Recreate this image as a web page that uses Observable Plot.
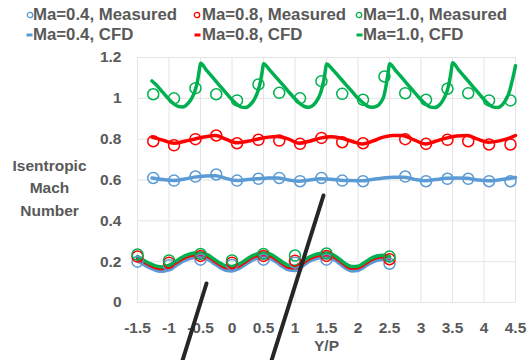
<!DOCTYPE html>
<html><head><meta charset="utf-8">
<script src="https://cdn.jsdelivr.net/npm/d3@7"></script>
<script src="https://cdn.jsdelivr.net/npm/@observablehq/plot@0.6"></script>
<style>
body{margin:0;background:#fff;font-family:"Liberation Sans",Arial,sans-serif;}
#legend{position:relative;height:45px;width:529px;}
.lt{position:absolute;font-size:16.8px;font-weight:bold;color:#595959;white-space:nowrap;line-height:18px;}
.mk{position:absolute;}
</style></head>
<body>
<div id="legend"></div>
<div id="chart"></div>
<script>
// ---------- data ----------
const seriesNames = ["Ma=0.4", "Ma=0.8", "Ma=1.0"];
const seriesColors = ["#5B9BD5", "#FF0000", "#00B050"];

const xTicks = [-1.5, -1, -0.5, 0, 0.5, 1, 1.5, 2, 2.5, 3, 3.5, 4, 4.5];
const xTickLabels = ["-1.5", "-1", "-0.5", "0", "0.5", "1", "1.5", "2", "2.5", "3", "3.5", "4", "4.5"];
const yTicks = [0, 0.2, 0.4, 0.6, 0.8, 1.0, 1.2];
const yTickLabels = ["0", "0.2", "0.4", "0.6", "0.8", "1", "1.2"];

// upper group: measured
const measX = [-1.25, -0.92, -0.58, -0.25, 0.08, 0.42, 0.75, 1.08, 1.42, 1.75, 2.08, 2.42, 2.75, 3.08, 3.42, 3.75, 4.08, 4.42];
const measBlue  = [0.610, 0.597, 0.617, 0.627, 0.597, 0.606, 0.610, 0.594, 0.610, 0.597, 0.594, null, 0.617, 0.594, 0.606, 0.606, 0.594, 0.594];
const measRed   = [0.790, 0.770, 0.800, 0.818, 0.780, 0.797, 0.793, 0.777, 0.806, 0.785, 0.780, null, 0.800, 0.777, 0.797, 0.790, 0.774, 0.774];
const measGreen = [1.020, 1.000, 1.050, 1.020, 0.990, 1.068, 1.027, 1.000, 1.084, 1.022, 0.993, 1.107, 1.025, 0.993, 1.047, 1.025, 0.990, 0.990];

// upper group: CFD
const cfdBlueX = [-1.27, -1.1, -0.92, -0.75, -0.6, -0.42, -0.26, -0.1, 0.08, 0.25, 0.4, 0.58, 0.72, 0.9, 1.06, 1.23, 1.4, 1.57, 1.73, 1.9, 2.07, 2.23, 2.4, 2.55, 2.73, 2.9, 3.07, 3.23, 3.4, 3.57, 3.73, 3.9, 4.07, 4.23, 4.4, 4.5];
const cfdBlueY = [0.610, 0.602, 0.597, 0.605, 0.614, 0.620, 0.621, 0.608, 0.597, 0.602, 0.606, 0.610, 0.610, 0.600, 0.594, 0.600, 0.606, 0.604, 0.599, 0.597, 0.596, 0.603, 0.610, 0.614, 0.614, 0.603, 0.596, 0.602, 0.608, 0.610, 0.608, 0.600, 0.596, 0.600, 0.607, 0.612];
const cfdRedX = [-1.27, -1.1, -0.92, -0.75, -0.6, -0.42, -0.26, -0.1, 0.08, 0.25, 0.4, 0.58, 0.72, 0.9, 1.06, 1.23, 1.4, 1.57, 1.73, 1.9, 2.07, 2.23, 2.4, 2.55, 2.7, 2.9, 3.07, 3.23, 3.4, 3.57, 3.73, 3.9, 4.07, 4.26, 4.4, 4.5];
const cfdRedY = [0.810, 0.795, 0.780, 0.790, 0.800, 0.812, 0.818, 0.800, 0.782, 0.790, 0.800, 0.810, 0.813, 0.800, 0.780, 0.790, 0.805, 0.812, 0.805, 0.790, 0.776, 0.790, 0.810, 0.818, 0.818, 0.795, 0.776, 0.790, 0.805, 0.815, 0.818, 0.800, 0.785, 0.793, 0.805, 0.818];
const cfdGreenX = [-1.27, -1.2, -1.1, -1.0, -0.92, -0.85, -0.78, -0.7, -0.64, -0.59, -0.55, -0.52, -0.5,
  -0.4, -0.3, -0.2, -0.1, 0.0, 0.08, 0.15, 0.22, 0.3, 0.36, 0.41, 0.45, 0.48, 0.5,
  0.6, 0.7, 0.8, 0.9, 1.0, 1.08, 1.15, 1.22, 1.3, 1.36, 1.41, 1.45, 1.48, 1.5,
  1.6, 1.7, 1.8, 1.9, 2.0, 2.08, 2.15, 2.22, 2.3, 2.36, 2.41, 2.45, 2.48, 2.5,
  2.6, 2.7, 2.8, 2.9, 3.0, 3.08, 3.15, 3.22, 3.3, 3.36, 3.41, 3.45, 3.48, 3.5,
  3.6, 3.7, 3.8, 3.9, 4.0, 4.08, 4.15, 4.22, 4.3, 4.36, 4.41, 4.45, 4.48, 4.5];
const cfdGreenY = [1.085, 1.065, 1.030, 0.995, 0.972, 0.960, 0.958, 0.975, 1.000, 1.035, 1.080, 1.135, 1.172,
  1.136, 1.100, 1.064, 1.028, 0.993, 0.970, 0.957, 0.955, 0.972, 0.998, 1.034, 1.080, 1.133, 1.170,
  1.138, 1.103, 1.068, 1.032, 0.998, 0.974, 0.960, 0.956, 0.970, 0.995, 1.030, 1.078, 1.132, 1.168,
  1.140, 1.105, 1.070, 1.035, 1.000, 0.978, 0.962, 0.956, 0.962, 0.980, 1.010, 1.070, 1.130, 1.170,
  1.135, 1.100, 1.064, 1.028, 0.993, 0.970, 0.957, 0.955, 0.970, 0.997, 1.032, 1.080, 1.135, 1.174,
  1.138, 1.102, 1.066, 1.030, 0.994, 0.970, 0.957, 0.955, 0.972, 1.000, 1.040, 1.090, 1.130, 1.160];

// lower group (around 0.2)
const lowMeasX = [-1.5, -1, -0.5, 0, 0.5, 1, 1.5, 2.5];
const lowMeasGreen = [0.235, 0.206, 0.238, 0.206, 0.238, 0.230, 0.240, 0.225];
const lowMeasRed   = [0.225, 0.195, 0.228, 0.195, 0.228, 0.205, 0.228, 0.212];
const lowMeasBlue  = [0.200, 0.182, 0.210, 0.184, 0.210, 0.195, 0.210, 0.190];
const lowCfdX = [-1.5, -1.4, -1.3, -1.2, -1.1, -1.0, -0.9, -0.8, -0.7, -0.6, -0.5, -0.4, -0.3, -0.2, -0.1, 0.0, 0.1, 0.2, 0.3, 0.4, 0.5, 0.6, 0.7, 0.8, 0.9, 1.0, 1.1, 1.2, 1.3, 1.4, 1.5, 1.6, 1.7, 1.8, 1.9, 2.0, 2.1, 2.2, 2.3, 2.4, 2.5];
const lowCfdGreen = [0.225, 0.207, 0.190, 0.178, 0.174, 0.182, 0.200, 0.220, 0.234, 0.242, 0.243, 0.236, 0.216, 0.195, 0.179, 0.176, 0.186, 0.205, 0.225, 0.238, 0.243, 0.238, 0.220, 0.198, 0.181, 0.178, 0.195, 0.218, 0.232, 0.240, 0.242, 0.235, 0.214, 0.190, 0.176, 0.178, 0.195, 0.215, 0.228, 0.232, 0.225];
const lowCfdRed   = [0.217, 0.199, 0.182, 0.170, 0.166, 0.174, 0.192, 0.212, 0.226, 0.234, 0.235, 0.228, 0.208, 0.187, 0.171, 0.168, 0.178, 0.197, 0.217, 0.230, 0.235, 0.230, 0.212, 0.190, 0.173, 0.170, 0.187, 0.210, 0.224, 0.232, 0.234, 0.227, 0.206, 0.182, 0.168, 0.170, 0.187, 0.207, 0.220, 0.224, 0.217];
const lowCfdBlue  = [0.205, 0.187, 0.170, 0.158, 0.154, 0.162, 0.180, 0.200, 0.214, 0.222, 0.223, 0.216, 0.196, 0.175, 0.159, 0.156, 0.166, 0.185, 0.205, 0.218, 0.223, 0.218, 0.200, 0.178, 0.161, 0.158, 0.175, 0.198, 0.212, 0.220, 0.222, 0.215, 0.194, 0.170, 0.156, 0.158, 0.175, 0.195, 0.208, 0.212, 0.205];

// black strokes over the chart (in data units)
const stroke1X = [-0.405, -0.786];
const stroke1Y = [0.093, -0.284];
const stroke2X = [1.452, 0.627];
const stroke2Y = [0.524, -0.284];

// ---------- helpers ----------
const pts = (xs, ys) => xs.map((x, i) => ({x, y: ys[i]})).filter(d => d.y != null);

// ---------- legend ----------
const legend = document.getElementById("legend");
const colText = [33, 202, 363];
const colMark = [29.5, 197, 359];
const rowY = [15, 35];
seriesNames.forEach((name, i) => {
  const c = seriesColors[i];
  const m1 = document.createElementNS("http://www.w3.org/2000/svg", "svg");
  m1.setAttribute("width", 8); m1.setAttribute("height", 8);
  m1.setAttribute("class", "mk");
  m1.style.left = (colMark[i] - 4) + "px"; m1.style.top = (rowY[0] - 4) + "px";
  m1.innerHTML = `<circle cx="4" cy="4" r="2.7" fill="none" stroke="${c}" stroke-width="1.3"/>`;
  legend.appendChild(m1);
  const t1 = document.createElement("span");
  t1.className = "lt"; t1.textContent = name + ", Measured";
  t1.style.left = colText[i] + "px"; t1.style.top = (rowY[0] - 9) + "px";
  legend.appendChild(t1);
  const m2 = document.createElementNS("http://www.w3.org/2000/svg", "svg");
  m2.setAttribute("width", 8); m2.setAttribute("height", 6);
  m2.setAttribute("class", "mk");
  m2.style.left = (colMark[i] - 3.5) + "px"; m2.style.top = (rowY[1] - 3) + "px";
  m2.innerHTML = `<line x1="0.5" y1="3" x2="6.5" y2="3" stroke="${c}" stroke-width="3"/>`;
  legend.appendChild(m2);
  const t2 = document.createElement("span");
  t2.className = "lt"; t2.textContent = name + ", CFD";
  t2.style.left = colText[i] + "px"; t2.style.top = (rowY[1] - 9) + "px";
  legend.appendChild(t2);
});

// ---------- chart ----------
const lineOpts = (c, w) => ({x: "x", y: "y", stroke: c, strokeWidth: w, curve: "monotone-x"});
const dotOpts = (c) => ({x: "x", y: "y", r: 5.5, stroke: c, strokeWidth: 1.5, fill: "none"});
const gridColor = "#e4e4e4";

const chart = Plot.plot({
  width: 529, height: 315,
  marginTop: 12, marginBottom: 58, marginLeft: 137, marginRight: 14,
  style: {fontFamily: "Liberation Sans, Arial, sans-serif", fontSize: "15.5px", fontWeight: "bold", color: "#595959", background: "white", overflow: "visible"},
  x: {domain: [-1.5, 4.5]},
  y: {domain: [0, 1.2]},
  marks: [
    Plot.gridX(xTicks, {stroke: gridColor, strokeOpacity: 1, strokeWidth: 1}),
    Plot.gridY(yTicks, {stroke: gridColor, strokeOpacity: 1, strokeWidth: 1}),
    Plot.axisX(xTicks, {tickSize: 0, tickPadding: 19, tickFormat: d => xTickLabels[xTicks.indexOf(d)], label: null, fill: "#595959"}),
    Plot.axisY(yTicks, {tickSize: 0, tickPadding: 16, tickFormat: d => yTickLabels[yTicks.indexOf(d)], label: null, fill: "#595959"}),
    Plot.text(["Isentropic\nMach\nNumber"], {text: d => d, frameAnchor: "left", dx: -88, dy: 6, lineHeight: 1.45, textAnchor: "middle", fill: "#595959"}),
    Plot.text(["Y/P"], {text: d => d, frameAnchor: "bottom", dy: 48, fill: "#595959"}),
    // lower group
    Plot.line(pts(lowCfdX, lowCfdBlue), lineOpts(seriesColors[0], 4)),
    Plot.line(pts(lowCfdX, lowCfdRed), lineOpts(seriesColors[1], 3.5)),
    Plot.line(pts(lowCfdX, lowCfdGreen), lineOpts(seriesColors[2], 3.5)),
    Plot.dot(pts(lowMeasX, lowMeasBlue), dotOpts(seriesColors[0])),
    Plot.dot(pts(lowMeasX, lowMeasRed), dotOpts(seriesColors[1])),
    Plot.dot(pts(lowMeasX, lowMeasGreen), dotOpts(seriesColors[2])),
    // upper group
    Plot.line(pts(cfdBlueX, cfdBlueY), lineOpts(seriesColors[0], 3.5)),
    Plot.line(pts(cfdRedX, cfdRedY), lineOpts(seriesColors[1], 3.5)),
    Plot.line(pts(cfdGreenX, cfdGreenY), lineOpts(seriesColors[2], 3.5)),
    Plot.dot(pts(measX, measBlue), dotOpts(seriesColors[0])),
    Plot.dot(pts(measX, measRed), dotOpts(seriesColors[1])),
    Plot.dot(pts(measX, measGreen), dotOpts(seriesColors[2])),
    // black strokes
    Plot.line(pts(stroke1X, stroke1Y), {x: "x", y: "y", stroke: "#262626", strokeWidth: 4}),
    Plot.line(pts(stroke2X, stroke2Y), {x: "x", y: "y", stroke: "#262626", strokeWidth: 4})
  ]
});
document.getElementById("chart").appendChild(chart);
</script>
</body></html>
